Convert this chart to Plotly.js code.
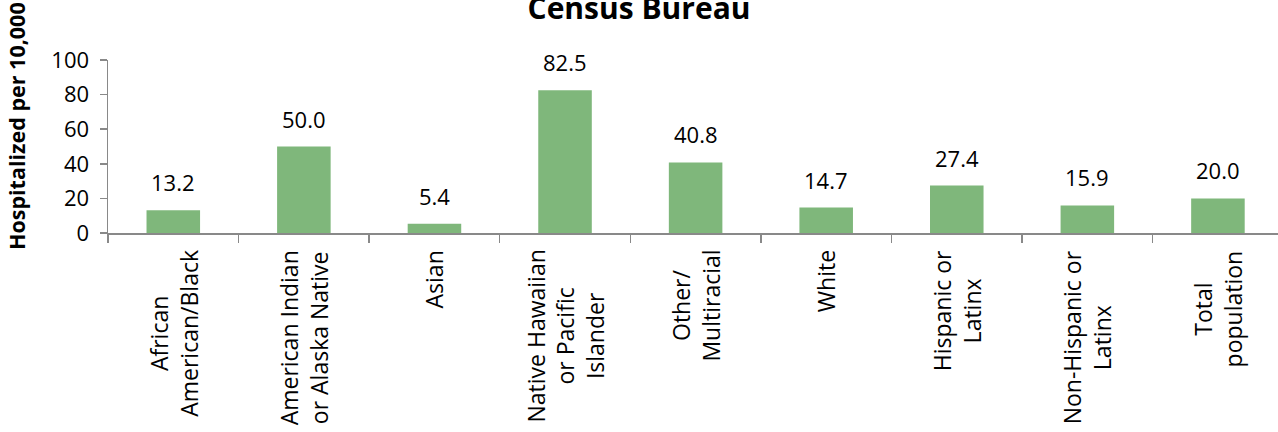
<!DOCTYPE html>
<html>
<head>
<meta charset="utf-8">
<script src="https://cdn.plot.ly/plotly-3.0.1.min.js"></script>
<style>html,body{margin:0;padding:0;background:#fff;}#chart{width:1278px;height:432px;}</style>
</head>
<body>
<div id="chart"></div>
<script>
const categories = [
  "African<br>American/Black",
  "American Indian<br>or Alaska Native",
  "Asian",
  "Native Hawaiian<br>or Pacific<br>Islander",
  "Other/<br>Multiracial",
  "White",
  "Hispanic or<br>Latinx",
  "Non-Hispanic or<br>Latinx",
  "Total<br>population"
];
const values = [13.2, 50.0, 5.4, 82.5, 40.8, 14.7, 27.4, 15.9, 20.0];
const titleText = "Census Bureau";
const yTitle = "Hospitalized per 10,000";
const yTicks = [0, 20, 40, 60, 80, 100];

const FONT = "Open Sans, sans-serif";
const idx = categories.map((c, i) => i);

const trace = {
  type: "bar",
  x: idx,
  y: values,
  width: 0.41,
  marker: {color: "#7fb77b", line: {width: 0}},
  hoverinfo: "skip"
};

const annotations = [];
values.forEach((v, i) => {
  annotations.push({
    x: i, y: v, xref: "x", yref: "y",
    text: v.toFixed(1), showarrow: false,
    xanchor: "center", yanchor: "bottom", yshift: 11,
    font: {family: FONT, size: 22, color: "#000"}
  });
});
categories.forEach((c, i) => {
  annotations.push({
    x: i, y: 0, xref: "x", yref: "paper",
    text: c, showarrow: false, textangle: -90, align: "center",
    xanchor: "center", yanchor: "top", yshift: -15,
    font: {family: FONT, size: 23, color: "#000"}
  });
});
// y-axis title
annotations.push({
  x: 0, y: 0, xref: "paper", yref: "paper",
  text: "<b>" + yTitle + "</b>", showarrow: false, textangle: -90,
  xanchor: "center", yanchor: "bottom", xshift: -92, yshift: -19,
  font: {family: FONT, size: 21.5, color: "#000"}
});

const layout = {
  width: 1278, height: 432,
  margin: {l: 108, r: 0, t: 60, b: 199, pad: 0},
  paper_bgcolor: "#fff", plot_bgcolor: "#fff",
  showlegend: false,
  title: {
    text: "<b>" + titleText + "</b>",
    x: 0.5, xref: "container", xanchor: "center",
    y: 0.9815, yref: "container", yanchor: "middle",
    font: {family: FONT, size: 30, color: "#000"}
  },
  xaxis: {
    type: "linear",
    range: [-0.5, 8.46],
    tickvals: [-0.5, 0.5, 1.5, 2.5, 3.5, 4.5, 5.5, 6.5, 7.5, 8.5],
    showticklabels: false,
    ticks: "outside", ticklen: 8, tickwidth: 1.5, tickcolor: "#898989",
    showline: true, linecolor: "#898989", linewidth: 1.5,
    showgrid: false, zeroline: false, fixedrange: true
  },
  yaxis: {
    range: [0, 100],
    tickvals: yTicks,
    ticks: "outside", ticklen: 7, tickwidth: 1.5, tickcolor: "#898989",
    showline: true, linecolor: "#898989", linewidth: 1.5,
    showgrid: false, zeroline: false,
    ticklabelstandoff: 6,
    tickfont: {family: FONT, size: 22, color: "#000"},
    fixedrange: true
  },
  annotations: annotations
};

Plotly.newPlot("chart", [trace], layout, {displayModeBar: false, staticPlot: true});
</script>
</body>
</html>
